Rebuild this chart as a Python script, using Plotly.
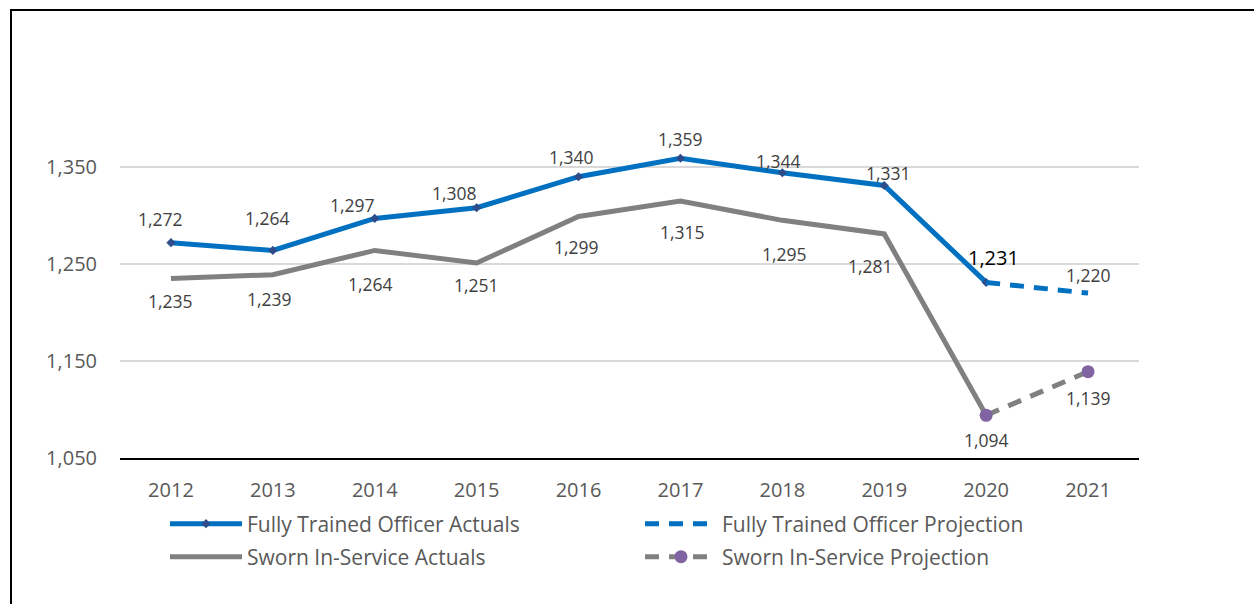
import plotly.graph_objects as go

years = ["2012", "2013", "2014", "2015", "2016", "2017", "2018", "2019", "2020", "2021"]
ft_actual_years = years[:9]
ft_actual = [1272, 1264, 1297, 1308, 1340, 1359, 1344, 1331, 1231]
ft_proj_years = ["2020", "2021"]
ft_proj = [1231, 1220]
sw_actual_years = years[:9]
sw_actual = [1235, 1239, 1264, 1251, 1299, 1315, 1295, 1281, 1094]
sw_proj_years = ["2020", "2021"]
sw_proj = [1094, 1139]
y_ticks = [1050, 1150, 1250, 1350]

# label offsets (style, px)
ft_dx = [-10, -5, -22, -22, -7, 0, -4, 4, 7, 0]
ft_dy = [24, 32, 13, 15, 20, 19, 12, 12, 25, 18]
sw_dx = [0, -3, -4, 0, -2, 2, 2, -14, 0, 0]
sw_dy = [-22, -24, -34, -22, -31, -31, -34, -32, -25, -26]

W, H = 1254, 604
BLUE = "#0070C0"
GRAY = "#808080"
PURPLE = "#8064A2"
TXT = "#595959"
FONT = "Open Sans"

fig = go.Figure()
fig.add_trace(go.Scatter(
    x=ft_actual_years, y=ft_actual, mode="lines+markers",
    name="Fully Trained Officer Actuals",
    line=dict(color=BLUE, width=5),
    marker=dict(symbol="diamond", size=7, color="#2E4C8A"),
    legend="legend",
))
fig.add_trace(go.Scatter(
    x=ft_proj_years, y=ft_proj, mode="lines",
    name="Fully Trained Officer Projection",
    line=dict(color=BLUE, width=5, dash="14px,10px"),
    legend="legend2",
))
fig.add_trace(go.Scatter(
    x=sw_actual_years, y=sw_actual, mode="lines",
    name="Sworn In-Service Actuals",
    line=dict(color=GRAY, width=5),
    legend="legend3",
))
fig.add_trace(go.Scatter(
    x=sw_proj_years, y=sw_proj, mode="lines+markers",
    name="Sworn In-Service Projection",
    line=dict(color=GRAY, width=5, dash="14px,10px"),
    marker=dict(symbol="circle", size=13, color=PURPLE),
    legend="legend4",
))

# data labels (x as category index)
ft_all_years = ft_actual_years + ft_proj_years[1:]
ft_all = ft_actual + ft_proj[1:]
for i, (x, v) in enumerate(zip(ft_all_years, ft_all)):
    special = (x == "2020")
    fig.add_annotation(
        x=years.index(x), y=v, text=f"{v:,}", showarrow=False,
        xshift=ft_dx[i], yshift=ft_dy[i],
        font=dict(family=FONT, size=20 if special else 17.5,
                  color="#000000" if special else "#404040"),
    )
sw_all_years = sw_actual_years + sw_proj_years[1:]
sw_all = sw_actual + sw_proj[1:]
for i, (x, v) in enumerate(zip(sw_all_years, sw_all)):
    fig.add_annotation(
        x=years.index(x), y=v, text=f"{v:,}", showarrow=False,
        xshift=sw_dx[i], yshift=sw_dy[i],
        font=dict(family=FONT, size=17.5, color="#404040"),
    )

# chart frame
fig.add_shape(type="rect", xref="paper", yref="paper",
              x0=11 / W, x1=1.2, y0=-0.2, y1=(H - 10) / H,
              line=dict(color="#000000", width=2), layer="above")

legend_common = dict(
    orientation="h", xanchor="left", yanchor="middle", itemwidth=72,
    font=dict(family=FONT, size=21, color=TXT),
    bgcolor="rgba(0,0,0,0)", itemclick=False, itemdoubleclick=False,
)
col1_x, col2_x = 165 / W, 640 / W
row1_y, row2_y = (H - 524) / H, (H - 557) / H

fig.update_layout(
    width=W, height=H,
    margin=dict(l=0, r=0, t=0, b=0, autoexpand=False),
    paper_bgcolor="white", plot_bgcolor="white",
    font=dict(family=FONT, color=TXT),
    showlegend=True,
    legend=dict(x=col1_x, y=row1_y, **legend_common),
    legend2=dict(x=col2_x, y=row1_y, **legend_common),
    legend3=dict(x=col1_x, y=row2_y, **legend_common),
    legend4=dict(x=col2_x, y=row2_y, **legend_common),
    xaxis=dict(
        domain=[120 / W, 1139 / W], type="category", range=[-0.5, 9.5],
        categoryorder="array", categoryarray=years, automargin=False,
        showgrid=False, showline=True, linecolor="#000000", linewidth=2,
        ticks="", tickfont=dict(family=FONT, size=20, color=TXT),
        ticklabelstandoff=13, fixedrange=True,
    ),
    yaxis=dict(
        domain=[(H - 458) / H, (H - 70) / H], range=[1050, 1450],
        tickvals=y_ticks, tickformat=",", automargin=False,
        showgrid=True, gridcolor="#D9D9D9", gridwidth=1.5,
        zeroline=False, showline=False, ticks="",
        tickfont=dict(family=FONT, size=20, color=TXT),
        ticklabelstandoff=22, fixedrange=True,
    ),
)

fig.write_html("out.html")
